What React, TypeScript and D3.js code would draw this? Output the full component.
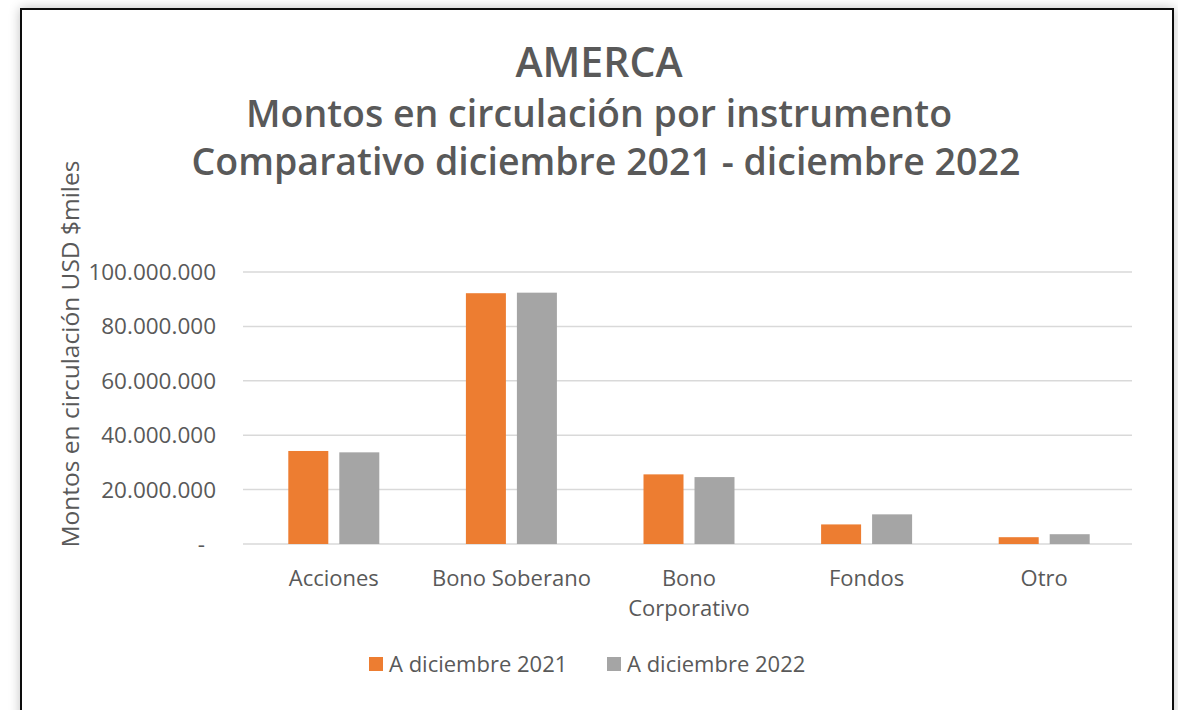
import React from "react";
import * as d3 from "d3";

const categories = ["Acciones", "Bono Soberano", "Bono Corporativo", "Fondos", "Otro"];
const seriesNames = ["A diciembre 2021", "A diciembre 2022"];
const values2021 = [34200000, 92200000, 25600000, 7200000, 2500000];
const values2022 = [33700000, 92400000, 24600000, 10900000, 3600000];
const yTicks = [0, 20000000, 40000000, 60000000, 80000000, 100000000];
const colors = ["#ED7D31", "#A5A5A5"];

const W = 1178;
const H = 710;
const margin = { top: 272, right: 45, bottom: 166, left: 245 };
const textColor = "#595959";
const font = "'Open Sans', sans-serif";

const fmt = (v: number) => (v === 0 ? "-" : d3.format(",")(v).replace(/,/g, "."));

const App = () => {
  const x0 = d3
    .scaleBand<string>()
    .domain(categories)
    .range([margin.left, W - margin.right]);
  const groupW = 91;
  const x1 = d3
    .scaleBand<string>()
    .domain(seriesNames)
    .range([(x0.bandwidth() - groupW) / 2, (x0.bandwidth() + groupW) / 2])
    .paddingInner(0.2157);
  const y = d3
    .scaleLinear()
    .domain([0, 100000000])
    .range([H - margin.bottom, margin.top]);

  const series = [values2021, values2022];

  return (
    <svg
      width={W}
      height={H}
      style={{ position: "absolute", left: 0, top: 0, background: "#fff" }}
    >
      <defs>
        <filter id="shadow" x="-5%" y="-5%" width="110%" height="110%">
          <feGaussianBlur in="SourceAlpha" stdDeviation="6" />
          <feComponentTransfer>
            <feFuncA type="linear" slope="0.25" />
          </feComponentTransfer>
          <feMerge>
            <feMergeNode />
            <feMergeNode in="SourceGraphic" />
          </feMerge>
        </filter>
      </defs>
      {/* chart frame */}
      <rect
        x={21}
        y={9}
        width={1152}
        height={740}
        fill="#fff"
        stroke="#111"
        strokeWidth={2}
        filter="url(#shadow)"
      />

      {/* titles */}
      <g fill={textColor} fontFamily={font} fontWeight={600} textAnchor="middle">
        <text x={599} y={77} fontSize={41}>AMERCA</text>
        <text x={599} y={127} fontSize={37.5}>Montos en circulación por instrumento</text>
        <text x={606} y={175} fontSize={37.5}>Comparativo diciembre 2021 - diciembre 2022</text>
      </g>

      {/* gridlines */}
      <g>
        {yTicks.map((t) => (
          <line
            key={t}
            x1={243}
            x2={1132}
            y1={y(t)}
            y2={y(t)}
            stroke="#D9D9D9"
            strokeWidth={1.5}
          />
        ))}
      </g>

      {/* y tick labels */}
      <g fill={textColor} fontFamily={font} fontSize={22.5} textAnchor="end">
        {yTicks.map((t) => (
          <text key={t} x={t === 0 ? 205 : 216} y={y(t) + 8}>
            {fmt(t)}
          </text>
        ))}
      </g>

      {/* y axis title */}
      <text
        transform={`translate(79, 354) rotate(-90)`}
        fill={textColor}
        fontFamily={font}
        fontSize={24.5}
        textAnchor="middle"
      >
        Montos en circulación USD $miles
      </text>

      {/* bars */}
      {categories.map((c, i) => (
        <g key={c} transform={`translate(${x0(c)},0)`}>
          {seriesNames.map((s, j) => (
            <rect
              key={s}
              x={x1(s)}
              y={y(series[j][i])}
              width={x1.bandwidth()}
              height={y(0) - y(series[j][i])}
              fill={colors[j]}
            />
          ))}
        </g>
      ))}

      {/* x labels */}
      <g fill={textColor} fontFamily={font} fontSize={22} textAnchor="middle">
        {categories.map((c) => {
          const cx = (x0(c) || 0) + x0.bandwidth() / 2;
          const lines = c === "Bono Corporativo" ? ["Bono", "Corporativo"] : [c];
          return (
            <text key={c} x={cx} y={586}>
              {lines.map((l, k) => (
                <tspan key={k} x={cx} dy={k === 0 ? 0 : 30}>
                  {l}
                </tspan>
              ))}
            </text>
          );
        })}
      </g>

      {/* legend */}
      <g fontFamily={font} fontSize={22} fill={textColor}>
        {seriesNames.map((s, j) => {
          const lx = j === 0 ? 369 : 607;
          return (
            <g key={s}>
              <rect x={lx} y={657} width={14} height={14} fill={colors[j]} />
              <text x={lx + 20} y={672}>
                {s}
              </text>
            </g>
          );
        })}
      </g>
    </svg>
  );
};

export default App;
